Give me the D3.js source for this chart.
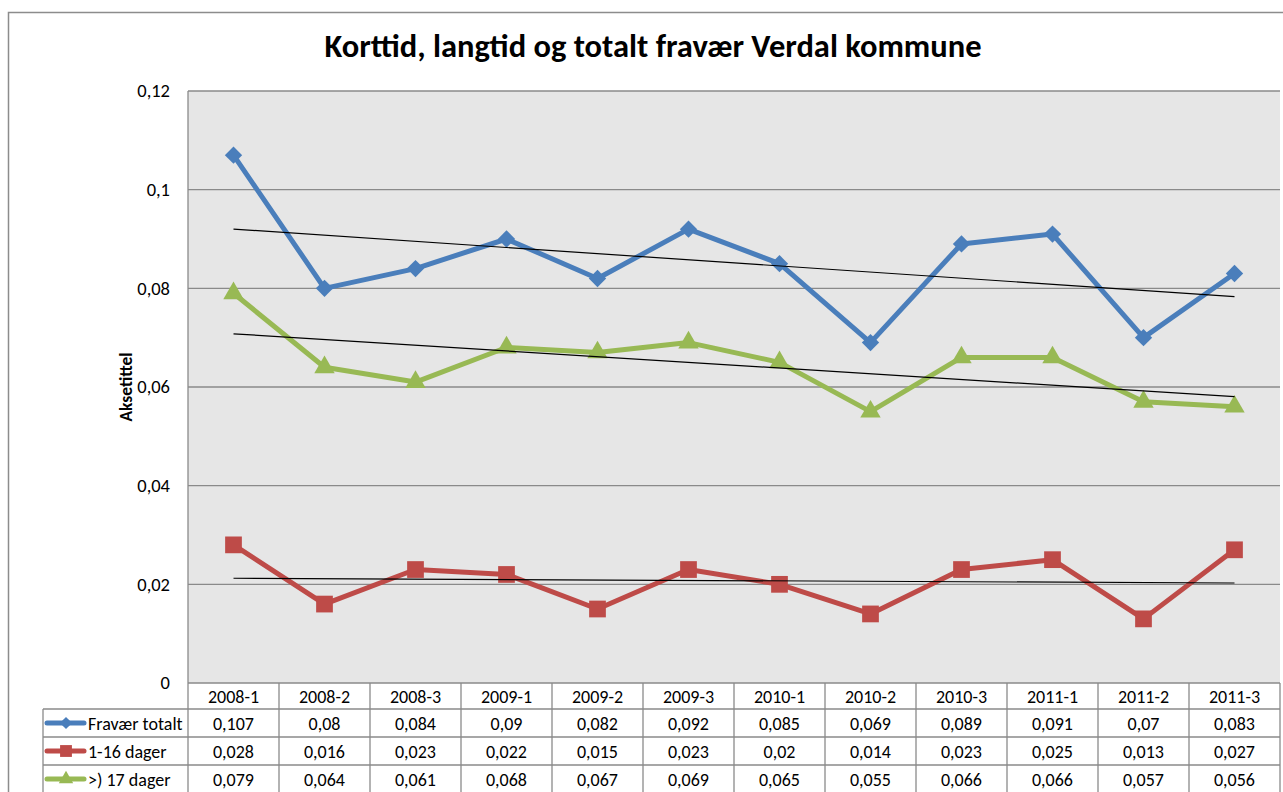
<!DOCTYPE html>
<html>
<head>
<meta charset="utf-8">
<script src="https://cdn.jsdelivr.net/npm/d3@7"></script>
<style>
  body { margin: 0; background: #fff; }
  text { font-family: Carlito, Calibri, Lato, sans-serif; }
</style>
</head>
<body>
<div id="chart"></div>
<script>
var svgWidth = 1283;
var svgHeight = 792;

// data
var categories = ["2008-1", "2008-2", "2008-3", "2009-1", "2009-2", "2009-3",
  "2010-1", "2010-2", "2010-3", "2011-1", "2011-2", "2011-3"];
var totalt = [0.107, 0.08, 0.084, 0.09, 0.082, 0.092, 0.085, 0.069, 0.089, 0.091, 0.07, 0.083];
var kort = [0.028, 0.016, 0.023, 0.022, 0.015, 0.023, 0.02, 0.014, 0.023, 0.025, 0.013, 0.027];
var lang = [0.079, 0.064, 0.061, 0.068, 0.067, 0.069, 0.065, 0.055, 0.066, 0.066, 0.057, 0.056];
var yTicks = [0, 0.02, 0.04, 0.06, 0.08, 0.1, 0.12];
var tickLabels = ["0", "0,02", "0,04", "0,06", "0,08", "0,1", "0,12"];

// diamond drawn as a rotated square so it is not elongated
var diamond = {
  draw: function(ctx, size) {
    var r = Math.sqrt(size / 2);
    ctx.moveTo(0, -r); ctx.lineTo(r, 0); ctx.lineTo(0, r); ctx.lineTo(-r, 0); ctx.closePath();
  }
};

var series = [
  { name: "Fravær totalt", values: totalt, color: "#4a7ebb", marker: diamond, size: 150 },
  { name: "1-16 dager", values: kort, color: "#be4b48", marker: d3.symbolSquare, size: 280 },
  { name: ">) 17 dager", values: lang, color: "#98b954", marker: d3.symbolTriangle, size: 180 }
];

var plot = { left: 188, top: 91, right: 1280, bottom: 683 };
var rowH = 28;
var legendLeft = 43;
var cellFont = 18;

var svg = d3.select("#chart")
  .append("svg")
  .attr("width", svgWidth)
  .attr("height", svgHeight);

// outer chart frame
svg.append("rect")
  .attr("x", 8.5).attr("y", 12.5)
  .attr("width", 1300).attr("height", 820)
  .attr("fill", "none")
  .attr("stroke", "#8c8c8c")
  .attr("stroke-width", 1.5);

svg.append("text")
  .attr("x", 653).attr("y", 57)
  .attr("text-anchor", "middle")
  .attr("font-size", 32.5)
  .attr("font-weight", "bold")
  .text("Korttid, langtid og totalt fravær Verdal kommune");

var x = d3.scaleBand()
  .domain(categories)
  .range([plot.left, plot.right]);

var y = d3.scaleLinear()
  .domain([0, 0.12])
  .range([plot.bottom, plot.top]);

// plot area
svg.append("rect")
  .attr("x", plot.left).attr("y", plot.top)
  .attr("width", plot.right - plot.left).attr("height", plot.bottom - plot.top)
  .attr("fill", "#e6e6e6");

// gridlines
svg.append("g")
  .selectAll("line")
  .data(yTicks)
  .enter()
  .append("line")
  .attr("x1", plot.left).attr("x2", plot.right)
  .attr("y1", d => y(d)).attr("y2", d => y(d))
  .attr("stroke", "#8a8a8a")
  .attr("stroke-width", 1.3);

svg.append("line")
  .attr("x1", plot.left).attr("x2", plot.left)
  .attr("y1", plot.top).attr("y2", plot.bottom)
  .attr("stroke", "#8a8a8a").attr("stroke-width", 1.3);

// y axis labels
var leftAxis = d3.axisLeft(y)
  .tickValues(yTicks)
  .tickSize(0)
  .tickPadding(18)
  .tickFormat((d, i) => tickLabels[i]);

var yAxisG = svg.append("g")
  .attr("transform", `translate(${plot.left}, 0)`)
  .call(leftAxis);
yAxisG.select(".domain").remove();
yAxisG.selectAll("text")
  .attr("font-size", 18.5)
  .attr("font-family", "Carlito, Calibri, Lato, sans-serif")
  .attr("fill", "#000");

svg.append("text")
  .attr("transform", `translate(132, ${(plot.top + plot.bottom) / 2}) rotate(-90)`)
  .attr("text-anchor", "middle")
  .attr("font-size", 17.5)
  .attr("font-weight", "bold")
  .text("Aksetittel");

// trend lines (linear least squares, like Excel)
function trend(values) {
  var n = values.length;
  var xs = d3.range(n);
  var mx = d3.mean(xs), my = d3.mean(values);
  var sxy = d3.sum(xs, (xi, i) => (xi - mx) * (values[i] - my));
  var sxx = d3.sum(xs, xi => (xi - mx) * (xi - mx));
  var b = sxy / sxx;
  var a = my - b * mx;
  return [[0, a], [n - 1, a + b * (n - 1)]];
}

var cx = i => x(categories[i]) + x.bandwidth() / 2;

var line = d3.line()
  .x((d, i) => cx(i))
  .y(d => y(d));

series.forEach(function(s) {
  svg.append("path")
    .datum(s.values)
    .attr("fill", "none")
    .attr("stroke", s.color)
    .attr("stroke-width", 5)
    .attr("stroke-linejoin", "round")
    .attr("d", line);

  svg.selectAll(null)
    .data(s.values)
    .enter()
    .append("path")
    .attr("transform", (d, i) => `translate(${cx(i)}, ${y(d)})`)
    .attr("d", d3.symbol().type(s.marker).size(s.size))
    .attr("fill", s.color);
});

series.forEach(function(s) {
  var t = trend(s.values);
  svg.append("line")
    .attr("x1", cx(t[0][0])).attr("y1", y(t[0][1]))
    .attr("x2", cx(t[1][0])).attr("y2", y(t[1][1]))
    .attr("stroke", "#000")
    .attr("stroke-width", 1.2);
});

// data table
var table = svg.append("g");
var gridColor = "#8a8a8a";

// vertical lines between categories
table.selectAll(".vcol")
  .data(d3.range(categories.length + 1))
  .enter()
  .append("line")
  .attr("x1", i => plot.left + i * x.bandwidth())
  .attr("x2", i => plot.left + i * x.bandwidth())
  .attr("y1", plot.bottom).attr("y2", svgHeight)
  .attr("stroke", gridColor).attr("stroke-width", 1.3);

table.append("line")
  .attr("x1", legendLeft).attr("x2", legendLeft)
  .attr("y1", plot.bottom + rowH - 2).attr("y2", svgHeight)
  .attr("stroke", gridColor).attr("stroke-width", 1.3);

table.selectAll(".hrow")
  .data([1, 2, 3])
  .enter()
  .append("line")
  .attr("x1", legendLeft).attr("x2", plot.right)
  .attr("y1", r => plot.bottom + r * rowH - 2)
  .attr("y2", r => plot.bottom + r * rowH - 2)
  .attr("stroke", gridColor).attr("stroke-width", 1.3);

// header
table.selectAll(".hdr")
  .data(categories)
  .enter()
  .append("text")
  .attr("x", d => x(d) + x.bandwidth() / 2)
  .attr("y", plot.bottom + 20)
  .attr("text-anchor", "middle")
  .attr("font-size", cellFont)
  .text(d => d);

series.forEach(function(s, r) {
  var rowTop = plot.bottom + (r + 1) * rowH - 2;
  table.selectAll(null)
    .data(s.values)
    .enter()
    .append("text")
    .attr("x", (d, i) => cx(i))
    .attr("y", rowTop + 21)
    .attr("text-anchor", "middle")
    .attr("font-size", cellFont)
    .text(d => String(d).replace(".", ","));

  // legend key
  var ky = rowTop + 14;
  table.append("line")
    .attr("x1", legendLeft + 4).attr("x2", legendLeft + 41)
    .attr("y1", ky).attr("y2", ky)
    .attr("stroke", s.color).attr("stroke-width", 5)
    .attr("stroke-linecap", "round");
  table.append("path")
    .attr("transform", `translate(${legendLeft + 23}, ${ky})`)
    .attr("d", d3.symbol().type(s.marker).size(s.size * 0.5))
    .attr("fill", s.color);
  table.append("text")
    .attr("x", legendLeft + 45)
    .attr("y", rowTop + 21)
    .attr("font-size", cellFont)
    .text(s.name);
});
</script>
</body>
</html>
